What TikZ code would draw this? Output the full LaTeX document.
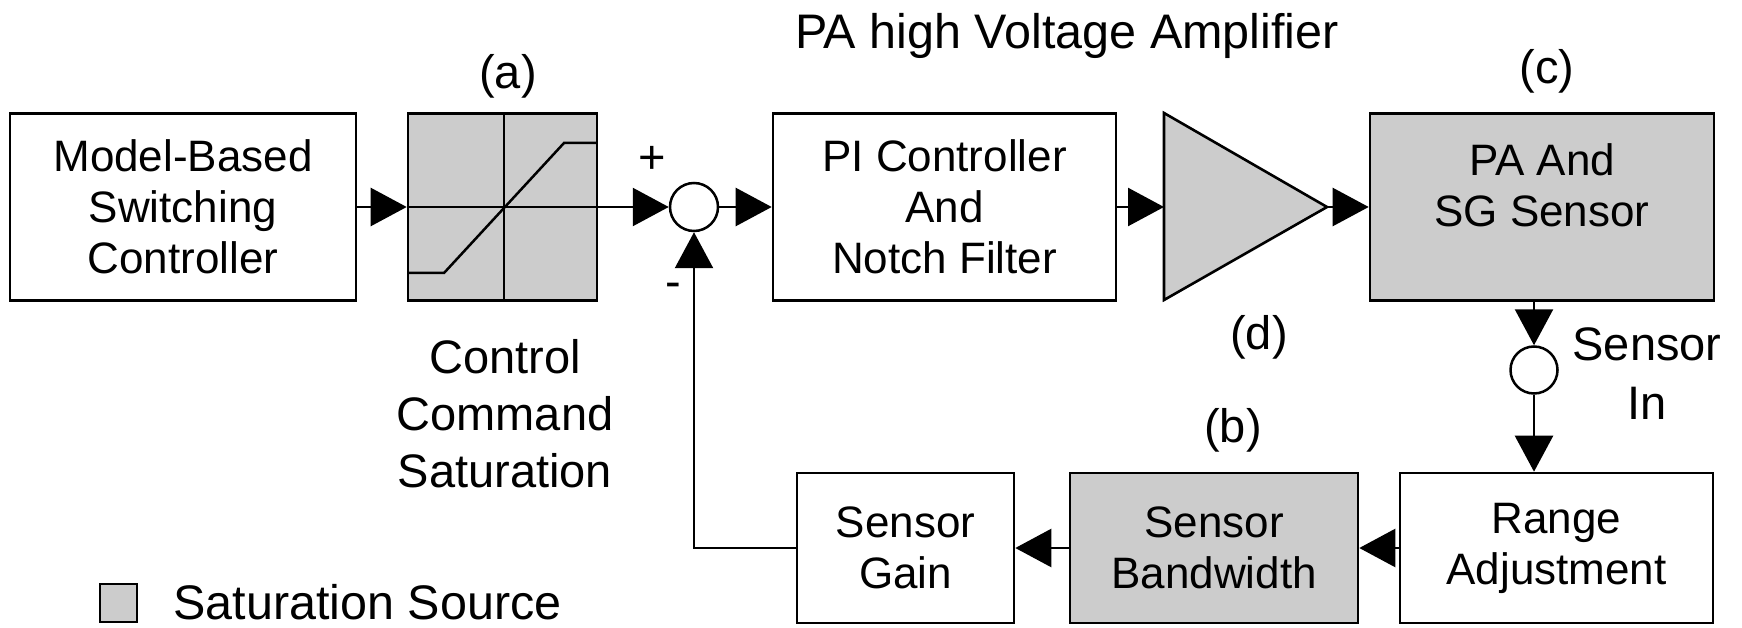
\documentclass[tikz,border=0pt]{standalone}
\usepackage{fontspec}
\setmainfont{Liberation Sans}
\usetikzlibrary{arrows.meta}
\definecolor{satgray}{RGB}{204,204,204}
\newcommand\boxfont{\fontsize{44}{51}\selectfont}
\newcommand\lblfont{\fontsize{47}{57}\selectfont}
\newcommand\ttlfont{\fontsize{48.5}{57}\selectfont}
\begin{document}
\begin{tikzpicture}[x=1pt,y=-1pt,line width=2.5pt,
  blk/.style={draw,line width=2.6pt,align=center,inner sep=0pt,font=\boxfont},
  satfill/.style={fill=satgray},
  sumj/.style={draw,circle,fill=white,inner sep=0pt},
  arr/.style={-{Triangle[length=36pt,width=38pt]}},
  lbl/.style={inner sep=0pt,font=\lblfont,align=center}]
\useasboundingbox (0,0) rectangle (1742,628);
% main row
\node[blk,minimum width=346pt,minimum height=187pt] (model) at (183,207) {Model-Based\\Switching\\Controller};
\node[blk,satfill,minimum width=189pt,minimum height=187pt] (sat) at (502.5,207) {};
\draw (504,113.5) -- (504,300.5);
\draw (408,207) -- (597,207);
\draw (408,273) -- (444,273) -- (564,143) -- (597,143);
\coordinate (satout) at (574,207);
\node[sumj,minimum size=48pt] (sum) at (694,207) {};
\node[blk,minimum width=343pt,minimum height=187pt] (pi) at (944.5,207) {PI Controller\\And\\Notch Filter};
\draw[satfill,line width=2.6pt,line join=miter] (1164,113) -- (1327,207) -- (1164,300) -- cycle;
\coordinate (ampin) at (1164,207);
\coordinate (ampout) at (1327,207);
\node[blk,satfill,minimum width=344pt,minimum height=187pt] (pa) at (1542,207) {PA And\\SG Sensor\\[-8pt]};
% sensor junction
\node[sumj,minimum size=47pt] (sens) at (1534,370) {};
% feedback row
\node[blk,minimum width=313pt,minimum height=150pt] (range) at (1556.5,548) {Range\\Adjustment};
\node[blk,satfill,minimum width=288pt,minimum height=150pt] (bw) at (1214,548) {Sensor\\Bandwidth};
\node[blk,minimum width=217pt,minimum height=150pt] (gain) at (905.5,548) {Sensor\\Gain};
% connectors
\draw[arr] (model.east) -- (sat.west);
\draw[arr] (satout) -- (sum.west);
\draw[arr] (sum.east) -- (pi.west);
\draw[arr] (pi.east) -- (ampin);
\draw[arr] (ampout) -- (pa.west);
\draw[arr] (sens |- pa.south) -- (sens.north);
\draw[arr] (sens.south) -- (sens |- range.north);
\draw[arr] (range.west) -- (bw.east);
\draw[arr] (bw.west) -- (gain.east);
\draw[arr] (gain.west) -| (sum.south);
% labels
\node[lbl,font=\ttlfont,anchor=base] (title) at (1067,49) {PA high Voltage Amplifier};
\node[lbl] (la) at (508,76) {(a)};
\node[lbl] (lc) at (1547,71) {(c)};
\node[lbl] (ld) at (1259,337) {(d)};
\node[lbl] (lb) at (1233,430) {(b)};
\node[lbl] (plus) at (652,160) {+};
\node[lbl] (minus) at (673,290) {-};
\node[lbl] (ccs) at (505,414) {Control\\Command\\Saturation};
\node[lbl,font=\fontsize{47}{59}\selectfont] (sensin) at (1647,374) {Sensor\\In};
% legend
\node[draw,satfill,line width=2.6pt,minimum width=37pt,minimum height=38pt,inner sep=0pt] (legbox) at (118.5,603) {};
\node[lbl,font=\ttlfont,anchor=west] (legtxt) at (172,602) {Saturation Source};
\end{tikzpicture}
\end{document}
